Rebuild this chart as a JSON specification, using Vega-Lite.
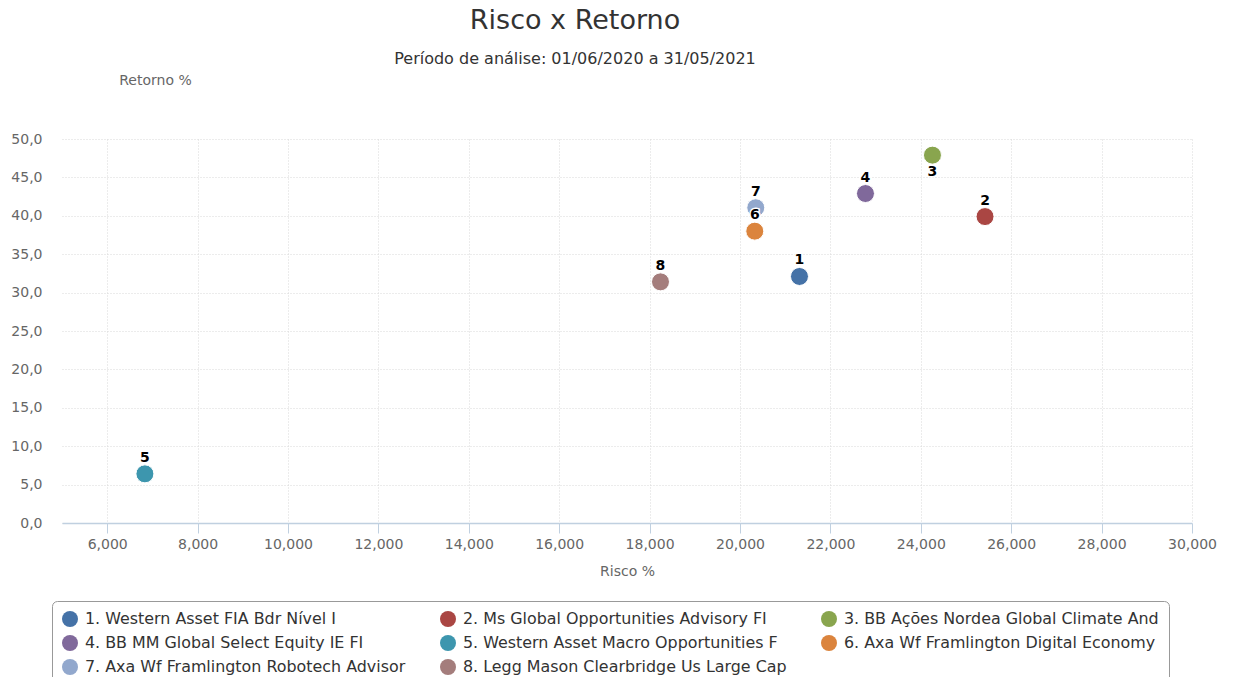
{
  "$schema": "https://vega.github.io/schema/vega-lite/v6.json",
  "autosize": {"type": "none"},
  "width": 1130,
  "height": 384,
  "padding": {"left": 62, "top": 139, "right": 62, "bottom": 154},
  "background": "white",
  "config": {
    "font": "DejaVu Sans",
    "view": {"stroke": null}
  },
  "title": {
    "text": "Risco x Retorno",
    "subtitle": "Período de análise: 01/06/2020 a 31/05/2021",
    "fontSize": 27,
    "fontWeight": "normal",
    "color": "#333333",
    "subtitleFontSize": 16,
    "subtitleColor": "#333333",
    "subtitlePadding": 16,
    "anchor": "middle",
    "frame": "group",
    "dx": -52,
    "offset": 5
  },
  "data": {
    "values": [
      {"n": 1, "fundo": "1. Western Asset FIA Bdr Nível I", "risco": 21316, "retorno": 32.1},
      {"n": 2, "fundo": "2. Ms Global Opportunities Advisory FI", "risco": 25421, "retorno": 39.9},
      {"n": 3, "fundo": "3. BB Ações Nordea Global Climate And", "risco": 24258, "retorno": 47.9},
      {"n": 4, "fundo": "4. BB MM Global Select Equity IE FI", "risco": 22776, "retorno": 42.9},
      {"n": 5, "fundo": "5. Western Asset Macro Opportunities F", "risco": 6834, "retorno": 6.4},
      {"n": 6, "fundo": "6. Axa Wf Framlington Digital Economy", "risco": 20327, "retorno": 38.0},
      {"n": 7, "fundo": "7. Axa Wf Framlington Robotech Advisor", "risco": 20349, "retorno": 41.05},
      {"n": 8, "fundo": "8. Legg Mason Clearbridge Us Large Cap", "risco": 18241, "retorno": 31.4}
    ]
  },
  "encoding": {
    "x": {
      "field": "risco",
      "type": "quantitative",
      "scale": {"domain": [5000, 30000], "nice": false, "zero": false},
      "axis": {
        "title": "Risco %",
        "values": [6000, 8000, 10000, 12000, 14000, 16000, 18000, 20000, 22000, 24000, 26000, 28000, 30000],
        "format": ",d",
        "labelFontSize": 14,
        "labelColor": "#666666",
        "labelPadding": 4,
        "labelFlush": false,
        "labelOverlap": false,
        "titleFontSize": 14,
        "titleFontWeight": "normal",
        "titleColor": "#666666",
        "titlePadding": 13,
        "domainColor": "#C0D0E0",
        "domainWidth": 1.5,
        "tickColor": "#C0D0E0",
        "tickSize": 10,
        "grid": true,
        "gridColor": "#d8d8d8",
        "gridDash": [1, 2]
      }
    },
    "y": {
      "field": "retorno",
      "type": "quantitative",
      "scale": {"domain": [0, 50], "nice": false},
      "axis": {
        "title": "Retorno %",
        "titleAngle": 0,
        "titleX": 93,
        "titleY": -59,
        "titleAlign": "center",
        "titleBaseline": "middle",
        "titleFontSize": 14,
        "titleFontWeight": "normal",
        "titleColor": "#666666",
        "values": [0, 5, 10, 15, 20, 25, 30, 35, 40, 45, 50],
        "labelExpr": "replace(format(datum.value, '.1f'), '.', ',')",
        "labelFontSize": 14,
        "labelColor": "#666666",
        "labelPadding": 20,
        "labelFlush": false,
        "domain": false,
        "ticks": false,
        "grid": true,
        "gridColor": "#d8d8d8",
        "gridDash": [1, 2]
      }
    }
  },
  "layer": [
    {
      "mark": {"type": "point", "shape": "circle", "filled": true, "size": 324, "opacity": 1, "stroke": "white", "strokeWidth": 1},
      "encoding": {
        "color": {
          "field": "fundo",
          "type": "nominal",
          "scale": {
            "domain": [
              "1. Western Asset FIA Bdr Nível I",
              "2. Ms Global Opportunities Advisory FI",
              "3. BB Ações Nordea Global Climate And",
              "4. BB MM Global Select Equity IE FI",
              "5. Western Asset Macro Opportunities F",
              "6. Axa Wf Framlington Digital Economy",
              "7. Axa Wf Framlington Robotech Advisor",
              "8. Legg Mason Clearbridge Us Large Cap"
            ],
            "range": ["#4572A7", "#AA4643", "#89A54E", "#80699B", "#3D96AE", "#DB843D", "#92A8CD", "#A47D7C"]
          },
          "legend": {
            "title": null,
            "orient": "none",
            "legendX": -10,
            "legendY": 462,
            "direction": "horizontal",
            "columns": 3,
            "columnPadding": 34,
            "rowPadding": 8,
            "symbolType": "circle",
            "symbolSize": 256,
            "symbolStrokeWidth": 0,
            "symbolOpacity": 1,
            "labelFontSize": 15.9,
            "labelColor": "#333333",
            "labelOffset": 7,
            "labelLimit": 400,
            "padding": 10,
            "strokeColor": "#999999",
            "cornerRadius": 5,
            "fillColor": "white"
          }
        }
      }
    },
    {
      "transform": [{"filter": "datum.n !== 3"}],
      "mark": {"type": "text", "fontSize": 14, "fontWeight": "bold", "stroke": "white", "strokeWidth": 3, "strokeJoin": "round", "fill": "white", "baseline": "middle", "dy": -16},
      "encoding": {"text": {"field": "n", "type": "nominal"}}
    },
    {
      "transform": [{"filter": "datum.n !== 3"}],
      "mark": {"type": "text", "fontSize": 14, "fontWeight": "bold", "fill": "black", "baseline": "middle", "dy": -16},
      "encoding": {"text": {"field": "n", "type": "nominal"}}
    },
    {
      "transform": [{"filter": "datum.n === 3"}],
      "mark": {"type": "text", "fontSize": 14, "fontWeight": "bold", "stroke": "white", "strokeWidth": 3, "strokeJoin": "round", "fill": "white", "baseline": "middle", "dy": 17},
      "encoding": {"text": {"field": "n", "type": "nominal"}}
    },
    {
      "transform": [{"filter": "datum.n === 3"}],
      "mark": {"type": "text", "fontSize": 14, "fontWeight": "bold", "fill": "black", "baseline": "middle", "dy": 17},
      "encoding": {"text": {"field": "n", "type": "nominal"}}
    }
  ]
}
